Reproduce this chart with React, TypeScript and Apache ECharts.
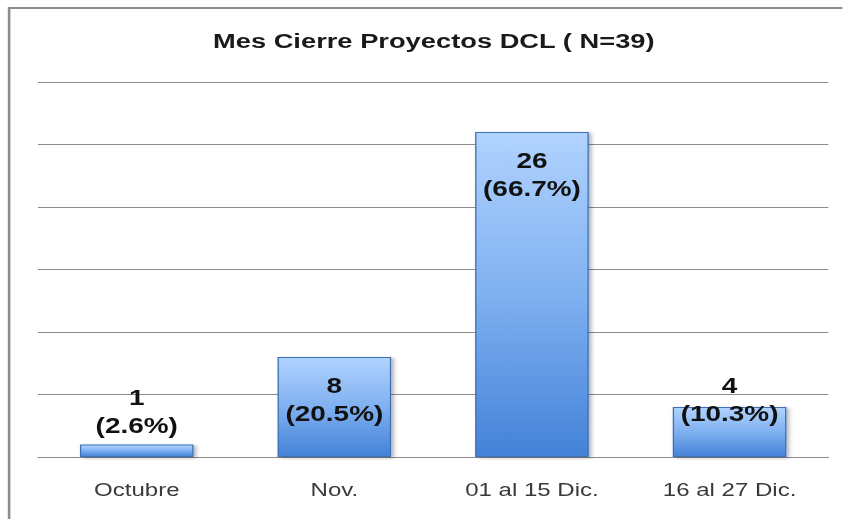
import React, { useEffect, useRef } from "react";
import * as echarts from "echarts";

const categories = ["Octubre", "Nov.", "01 al 15 Dic.", "16 al 27 Dic."];
const values = [1, 8, 26, 4];
const percents = ["2.6", "20.5", "66.7", "10.3"];
const yTicks = { min: 0, max: 30, interval: 5 };
const titleText = "Mes Cierre Proyectos DCL ( N=39)";

const STRETCH = 1.3;
const W = 843 / STRETCH;
const H = 519;

export default function App() {
  const ref = useRef<HTMLDivElement>(null);
  useEffect(() => {
    if (!ref.current) return;
    const chart = echarts.init(ref.current, undefined, { renderer: "svg" });
    const labelPlacement: any[] = [
      { position: "top", distance: 5 },
      { position: "insideTop", distance: 14 },
      { position: "insideTop", distance: 14 },
      { position: "top", distance: -20 },
    ];
    chart.setOption({
      animation: false,
      backgroundColor: "#ffffff",
      title: {
        text: titleText,
        left: 213 / STRETCH,
        top: 30,
        padding: 0,
        textStyle: {
          fontFamily: "Liberation Sans",
          fontWeight: "bold",
          fontSize: 21,
          color: "#1a1a1a",
        },
      },
      graphic: [
        {
          type: "rect",
          shape: { x: 7, y: 8, width: W + 20, height: H + 20 },
          style: { fill: "none", stroke: "#8c8c8c", lineWidth: 2 },
          silent: true,
        },
      ],
      grid: { left: 29.2, right: 10.8, top: 82, bottom: 62, containLabel: false },
      xAxis: {
        type: "category",
        data: categories,
        axisLine: { show: true, lineStyle: { color: "#8c8c8c", width: 1 } },
        axisTick: { show: false },
        axisLabel: {
          margin: 23,
          fontFamily: "Liberation Sans",
          fontSize: 18.5,
          color: "#3a3a3a",
        },
      },
      yAxis: {
        type: "value",
        min: yTicks.min,
        max: yTicks.max,
        interval: yTicks.interval,
        axisLine: { show: false },
        axisTick: { show: false },
        axisLabel: { show: false },
        splitLine: { lineStyle: { color: "#8c8c8c", width: 1 } },
      },
      series: [
        {
          type: "bar",
          barWidth: "57.5%",
          data: values.map((v, i) => ({
            value: v,
            label: {
              show: true,
              ...labelPlacement[i],
              formatter: `${v}\n(${percents[i]}%)`,
            },
          })),
          label: {
            fontFamily: "Liberation Sans",
            fontWeight: "bold",
            fontSize: 21.5,
            lineHeight: 28,
            color: "#111111",
          },
          itemStyle: {
            color: new echarts.graphic.LinearGradient(0, 0, 0, 1, [
              { offset: 0, color: "#b1d3fe" },
              { offset: 0.5, color: "#7fb0f0" },
              { offset: 1, color: "#4482d8" },
            ]),
            borderColor: "#3d70b8",
            borderWidth: 1,
            shadowColor: "rgba(0,0,0,0.3)",
            shadowBlur: 3,
            shadowOffsetX: 2,
            shadowOffsetY: 1,
          },
        },
      ],
    });
    return () => chart.dispose();
  }, []);
  return (
    <div
      style={{
        position: "fixed",
        left: 0,
        top: 0,
        width: 843,
        height: 519,
        overflow: "hidden",
        background: "#ffffff",
      }}
    >
      <div
        ref={ref}
        style={{
          width: W,
          height: H,
          transform: `scaleX(${STRETCH})`,
          transformOrigin: "0 0",
        }}
      />
    </div>
  );
}
